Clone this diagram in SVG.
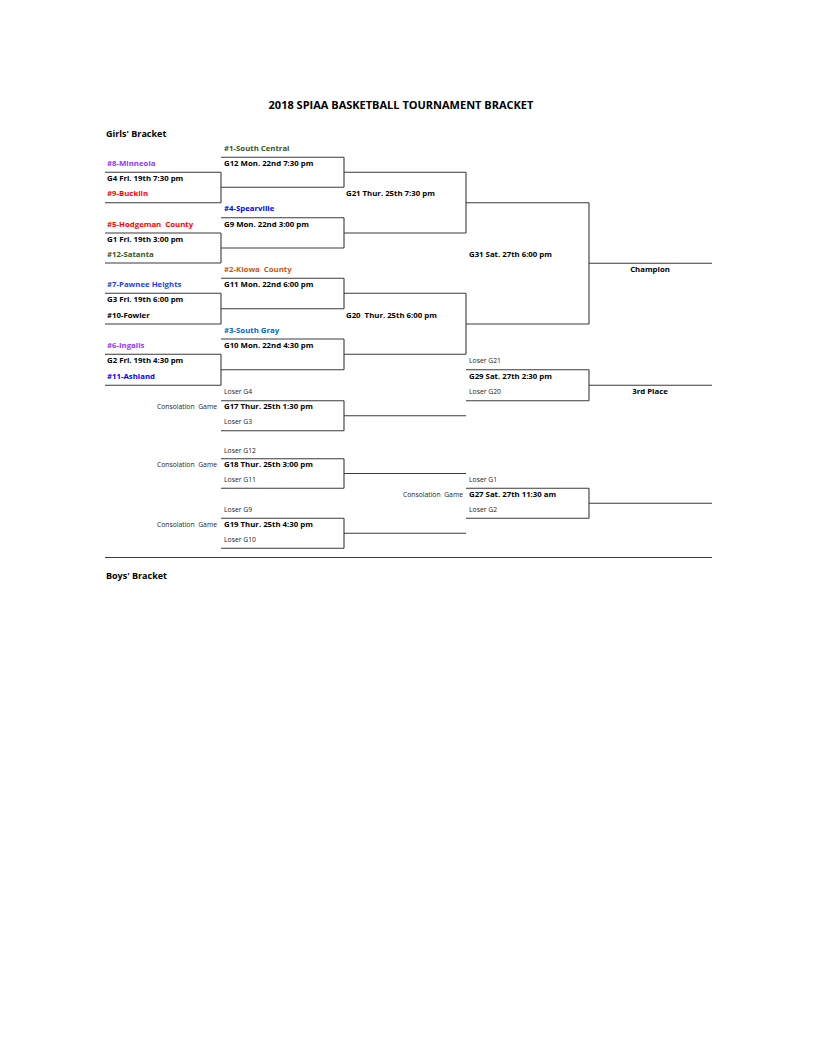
<svg xmlns="http://www.w3.org/2000/svg" width="816" height="1056" viewBox="0 0 816 1056" xml:space="preserve">
<style>
text{font-family:"Open Sans","Liberation Sans",sans-serif;white-space:pre;fill:#000}
.b{font-weight:bold;font-size:7.8px}
.r{font-size:6.8px;fill:#222}
.h{font-weight:bold;font-size:9px}
.t{font-weight:bold;font-size:11px}
.m{text-anchor:middle}
.e{text-anchor:end}
.pu{fill:#9933FF}.rd{fill:#FF0000}.gr{fill:#375623}.bl{fill:#0000FF}.bl2{fill:#1F3FE6}.bl3{fill:#0066CC}.or{fill:#C65911}
.ln line{stroke:#3a3a3a;stroke-width:1.1;fill:none}
</style>
<rect width="816" height="1056" fill="#fff"/>
<g id="title"><text class="t m" x="401" y="108.5">2018 SPIAA BASKETBALL TOURNAMENT BRACKET</text></g>
<g id="girls-label"><text class="h" x="106" y="137">Girls' Bracket</text></g>
<g id="boys-label"><text class="h" x="106" y="578.5">Boys' Bracket</text></g>

<g id="connectors" class="ln">
<line x1="105" y1="172.3" x2="221" y2="172.3"/><line x1="105" y1="202.7" x2="221" y2="202.7"/><line x1="221" y1="172.3" x2="221" y2="202.7"/>
<line x1="105" y1="233" x2="221" y2="233"/><line x1="105" y1="263" x2="221" y2="263"/><line x1="221" y1="233" x2="221" y2="263"/>
<line x1="105" y1="293.3" x2="221" y2="293.3"/><line x1="105" y1="324" x2="221" y2="324"/><line x1="221" y1="293.3" x2="221" y2="324"/>
<line x1="105" y1="354.3" x2="221" y2="354.3"/><line x1="105" y1="385.3" x2="221" y2="385.3"/><line x1="221" y1="354.3" x2="221" y2="385.3"/>
<line x1="221" y1="157.3" x2="344" y2="157.3"/><line x1="221" y1="187.3" x2="344" y2="187.3"/><line x1="344" y1="157.3" x2="344" y2="187.3"/>
<line x1="221" y1="217.8" x2="344" y2="217.8"/><line x1="221" y1="248" x2="344" y2="248"/><line x1="344" y1="217.8" x2="344" y2="248"/>
<line x1="221" y1="278.3" x2="344" y2="278.3"/><line x1="221" y1="308.7" x2="344" y2="308.7"/><line x1="344" y1="278.3" x2="344" y2="308.7"/>
<line x1="221" y1="339" x2="344" y2="339"/><line x1="221" y1="369.7" x2="344" y2="369.7"/><line x1="344" y1="339" x2="344" y2="369.7"/>
<line x1="344" y1="172.3" x2="466" y2="172.3"/><line x1="344" y1="233" x2="466" y2="233"/><line x1="466" y1="172.3" x2="466" y2="233"/>
<line x1="344" y1="293.3" x2="466" y2="293.3"/><line x1="344" y1="354.3" x2="466" y2="354.3"/><line x1="466" y1="293.3" x2="466" y2="354.3"/>
<line x1="466" y1="202.7" x2="589" y2="202.7"/><line x1="466" y1="324" x2="589" y2="324"/><line x1="589" y1="202.7" x2="589" y2="324"/>
<line x1="589" y1="263.3" x2="712" y2="263.3"/>
<line x1="466" y1="369.7" x2="589" y2="369.7"/><line x1="466" y1="400.7" x2="589" y2="400.7"/><line x1="589" y1="369.7" x2="589" y2="400.7"/>
<line x1="589" y1="385.3" x2="712" y2="385.3"/>
<line x1="221" y1="400.7" x2="344" y2="400.7"/><line x1="221" y1="430.7" x2="344" y2="430.7"/><line x1="344" y1="400.7" x2="344" y2="430.7"/>
<line x1="344" y1="415.7" x2="466" y2="415.7"/>
<line x1="221" y1="458.7" x2="344" y2="458.7"/><line x1="221" y1="488.3" x2="344" y2="488.3"/><line x1="344" y1="458.7" x2="344" y2="488.3"/>
<line x1="344" y1="473.5" x2="466" y2="473.5"/>
<line x1="221" y1="518.3" x2="344" y2="518.3"/><line x1="221" y1="548.3" x2="344" y2="548.3"/><line x1="344" y1="518.3" x2="344" y2="548.3"/>
<line x1="344" y1="533.3" x2="466" y2="533.3"/>
<line x1="466" y1="488.3" x2="589" y2="488.3"/><line x1="466" y1="518.3" x2="589" y2="518.3"/><line x1="589" y1="488.3" x2="589" y2="518.3"/>
<line x1="589" y1="503.3" x2="712" y2="503.3"/>
<line x1="105" y1="557.5" x2="712" y2="557.5"/>
</g>

<g id="G4"><text class="b pu" x="107" y="166">#8-Minneola</text><text class="b" x="107" y="181">G4 Fri. 19th 7:30 pm</text><text class="b rd" x="107" y="196.2">#9-Bucklin</text></g>
<g id="G1"><text class="b rd" x="107" y="226.6">#5-Hodgeman  County</text><text class="b" x="107" y="241.7">G1 Fri. 19th 3:00 pm</text><text class="b gr" x="107" y="256.7">#12-Satanta</text></g>
<g id="G3"><text class="b bl2" x="107" y="287">#7-Pawnee Heights</text><text class="b" x="107" y="302.2">G3 Fri. 19th 6:00 pm</text><text class="b" x="107" y="317.5">#10-Fowler</text></g>
<g id="G2"><text class="b pu" x="107" y="347.9">#6-Ingalls</text><text class="b" x="107" y="363.2">G2 Fri. 19th 4:30 pm</text><text class="b bl" x="107" y="378.7">#11-Ashland</text></g>

<g id="G12"><text class="b gr" x="224" y="150.9">#1-South Central</text><text class="b" x="224" y="166">G12 Mon. 22nd 7:30 pm</text></g>
<g id="G9"><text class="b bl" x="224" y="211.4">#4-Spearville</text><text class="b" x="224" y="226.6">G9 Mon. 22nd 3:00 pm</text></g>
<g id="G11"><text class="b or" x="224" y="271.8">#2-Kiowa  County</text><text class="b" x="224" y="287">G11 Mon. 22nd 6:00 pm</text></g>
<g id="G10"><text class="b bl3" x="224" y="332.7">#3-South Gray</text><text class="b" x="224" y="347.9">G10 Mon. 22nd 4:30 pm</text></g>

<g id="G21"><text class="b" x="346" y="196.2">G21 Thur. 25th 7:30 pm</text></g>
<g id="G20"><text class="b" x="346" y="317.5">G20  Thur. 25th 6:00 pm</text></g>
<g id="G31"><text class="b" x="469" y="256.7">G31 Sat. 27th 6:00 pm</text></g>
<g id="champion"><text class="b m" x="650" y="271.8">Champion</text></g>

<g id="G29"><text class="r" x="469" y="363">Loser G21</text><text class="b" x="469" y="378.7">G29 Sat. 27th 2:30 pm</text><text class="r" x="469" y="394">Loser G20</text></g>
<g id="third"><text class="b m" x="650" y="393.9">3rd Place</text></g>

<g id="G17"><text class="r" x="224" y="394">Loser G4</text><text class="r e" x="217" y="409.4">Consolation  Game</text><text class="b" x="224" y="409.4">G17 Thur. 25th 1:30 pm</text><text class="r" x="224" y="424.2">Loser G3</text></g>
<g id="G18"><text class="r" x="224" y="452.6">Loser G12</text><text class="r e" x="217" y="467.3">Consolation  Game</text><text class="b" x="224" y="467.3">G18 Thur. 25th 3:00 pm</text><text class="r" x="224" y="481.9">Loser G11</text></g>
<g id="G19"><text class="r" x="224" y="511.8">Loser G9</text><text class="r e" x="217" y="527">Consolation  Game</text><text class="b" x="224" y="527">G19 Thur. 25th 4:30 pm</text><text class="r" x="224" y="541.8">Loser G10</text></g>
<g id="G27"><text class="r" x="469" y="481.9">Loser G1</text><text class="r e" x="463" y="497">Consolation  Game</text><text class="b" x="469" y="497">G27 Sat. 27th 11:30 am</text><text class="r" x="469" y="511.8">Loser G2</text></g>
</svg>
